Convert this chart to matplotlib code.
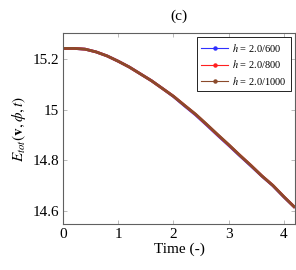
"""Total energy vs time for three mesh sizes, panel (c)."""

import matplotlib

matplotlib.use("Agg")
import matplotlib.pyplot as plt
from matplotlib.lines import Line2D
from matplotlib.ticker import FuncFormatter

# ---------------------------------------------------------------------------
# Data
# ---------------------------------------------------------------------------

time = [0.0, 0.2, 0.4, 0.6, 0.8, 1.0, 1.2, 1.4, 1.6, 1.8, 2.0,
        2.2, 2.4, 2.6, 2.8, 3.0, 3.2, 3.4, 3.6, 3.8, 4.0, 4.2]

e_600 = [15.244, 15.244, 15.241, 15.230, 15.214, 15.193, 15.170, 15.143,
         15.116, 15.085, 15.053, 15.016, 14.980, 14.940, 14.899, 14.859,
         14.818, 14.778, 14.737, 14.699, 14.654, 14.612]
e_800 = [15.244, 15.244, 15.241, 15.230, 15.214, 15.193, 15.170, 15.143,
         15.116, 15.085, 15.054, 15.018, 14.982, 14.942, 14.901, 14.861,
         14.820, 14.780, 14.738, 14.700, 14.655, 14.612]
e_1000 = [15.244, 15.244, 15.241, 15.230, 15.214, 15.193, 15.170, 15.143,
          15.116, 15.085, 15.054, 15.018, 14.983, 14.943, 14.902, 14.862,
          14.820, 14.780, 14.738, 14.700, 14.655, 14.612]

labels = [r"$h$ = 2.0/600", r"$h$ = 2.0/800", r"$h$ = 2.0/1000"]
colors = ["#3030ff", "#ff2020", "#8b4a2b"]

xticks = [0, 1, 2, 3, 4]
yticks = [14.6, 14.8, 15.0, 15.2]

# ---------------------------------------------------------------------------
# Plot
# ---------------------------------------------------------------------------

plt.rcParams["font.family"] = ["Liberation Serif", "DejaVu Serif"]
plt.rcParams["mathtext.fontset"] = "stix"

fig = plt.figure(figsize=(2.96, 2.70), dpi=100)
ax = fig.add_axes([0.2128, 0.1704, 0.7838, 0.7063])

handles = []
for series, lab, col in zip([e_600, e_800, e_1000], labels, colors):
    ax.plot(time, series, color=col, linewidth=2.0, solid_capstyle="butt")
    handles.append(Line2D([], [], color=col, linewidth=0.8, marker="o",
                          markersize=2.2, label=lab))

ax.set_xlim(0, 4.2)
ax.set_ylim(14.547, 15.304)
ax.set_xticks(xticks)
ax.set_yticks(yticks)
ax.yaxis.set_major_formatter(FuncFormatter(lambda v, _: f"{v:g}"))

ax.tick_params(direction="in", top=True, right=True, length=3,
               width=0.6, color="#b0b0b0", labelsize=11, pad=3)
for sp in ax.spines.values():
    sp.set_color("#606060")
    sp.set_linewidth(0.8)

ax.set_xlabel("Time (-)", fontsize=11, labelpad=1)
ax.set_ylabel(r"$E_{tot}(\mathbf{v},\phi,t)$", fontsize=11, labelpad=3)
ax.set_title("(c)", fontsize=11, pad=10)

leg = ax.legend(handles=handles, loc="upper right", fontsize=7.5,
                frameon=True, fancybox=False, edgecolor="black",
                framealpha=1, handlelength=2.6, borderpad=0.4,
                labelspacing=0.45, handletextpad=0.4, borderaxespad=0.4)
leg.get_frame().set_linewidth(0.6)

fig.savefig("out.png", dpi=100)
